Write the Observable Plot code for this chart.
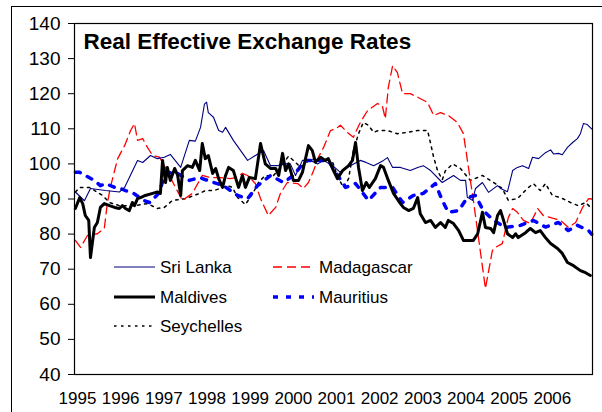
<!DOCTYPE html>
<html><head><meta charset="utf-8">
<script src="https://cdn.jsdelivr.net/npm/d3@7"></script>
<script src="https://cdn.jsdelivr.net/npm/@observablehq/plot@0.6"></script>
<style>
html,body{margin:0;padding:0;background:#fff;overflow:hidden;}
#outer{position:absolute;left:11px;top:6px;width:700px;height:500px;border-left:1.5px solid #000;border-top:1.5px solid #000;}
#chart{position:absolute;left:0;top:0;}
svg text{font-family:Arial,"Liberation Sans",sans-serif;}
</style></head><body>
<div id="outer"></div><div id="chart"></div>
<script>
const title = "Real Effective Exchange Rates";
const yTicks = [40, 50, 60, 70, 80, 90, 100, 110, 120, 130, 140];
const xTickYears = [1995, 1996, 1997, 1998, 1999, 2000, 2001, 2002, 2003, 2004, 2005, 2006];
const seriesNames = ["Sri Lanka", "Madagascar", "Maldives", "Mauritius", "Seychelles"];

const sriLanka = [[1995.02,92],[1995.23,89.5],[1995.37,93],[1995.72,92.4],[1996.04,92],[1996.16,93.3],[1996.46,101],[1996.58,100.4],[1996.76,102.4],[1996.92,101.5],[1997.08,101.9],[1997.22,102.7],[1997.46,99],[1997.66,106.7],[1997.80,106.5],[1997.92,110.4],[1998.01,117],[1998.06,117.6],[1998.10,114.6],[1998.22,113.3],[1998.34,109.5],[1998.43,109],[1998.50,110.4],[1998.68,106.7],[1999.01,101],[1999.19,102.4],[1999.38,103.8],[1999.54,99.5],[1999.70,99.5],[1999.84,100],[2000.00,100],[2000.12,96.7],[2000.28,101],[2000.47,101],[2000.63,100],[2000.77,101],[2000.98,99.5],[2001.16,97.6],[2001.39,99.5],[2001.62,101],[2001.74,100.5],[2001.93,99.5],[2002.16,101],[2002.25,101.8],[2002.37,99],[2002.55,99],[2002.78,98.1],[2002.95,99],[2003.08,99.5],[2003.25,98.1],[2003.52,94.7],[2003.78,96.7],[2003.94,95.3],[2004.06,95.3],[2004.10,90.5],[2004.22,89.6],[2004.29,93],[2004.45,94.7],[2004.59,91.9],[2004.80,93.8],[2004.87,93],[2005.03,92.1],[2005.15,98.1],[2005.26,99],[2005.38,99.5],[2005.52,98.7],[2005.61,101.9],[2005.75,101.5],[2005.91,103.2],[2006.03,104],[2006.10,102.8],[2006.21,103],[2006.30,102.6],[2006.42,104.7],[2006.54,106.1],[2006.65,107.2],[2006.72,108.6],[2006.79,111.5],[2006.88,111.2],[2006.98,110]];

const madagascar = [[1995.02,78.2],[1995.14,76.2],[1995.30,79.6],[1995.53,80.1],[1995.69,81.6],[1995.76,88.7],[1995.83,93.3],[1996.00,101.5],[1996.16,105.2],[1996.30,109.5],[1996.39,111.5],[1996.46,106.7],[1996.58,107.2],[1996.69,104.7],[1996.81,102.4],[1996.97,101.9],[1997.08,99.5],[1997.34,93.3],[1997.50,89.6],[1997.73,91.6],[1997.96,96.7],[1998.15,96.1],[1998.38,96.1],[1998.61,95.8],[1998.73,96.1],[1998.89,97.3],[1999.01,96.7],[1999.19,94.4],[1999.31,90.1],[1999.49,85.3],[1999.66,87.6],[1999.77,91.6],[1999.93,94.7],[2000.17,94.4],[2000.30,93],[2000.42,94.7],[2000.54,98.1],[2000.65,101.9],[2000.77,104.7],[2000.93,109.5],[2001.05,110],[2001.16,111],[2001.32,109],[2001.46,107.6],[2001.62,111.8],[2001.79,115.2],[2002.02,117.2],[2002.13,116.6],[2002.20,112.9],[2002.27,121.8],[2002.37,128],[2002.48,126],[2002.60,120],[2002.78,120],[2002.95,119],[2003.18,117.5],[2003.32,113.8],[2003.48,114.6],[2003.66,113.8],[2003.87,111.8],[2004.01,108.6],[2004.24,89.6],[2004.52,64.5],[2004.68,75.3],[2004.75,76.2],[2004.91,77.3],[2005.05,84.7],[2005.15,87.3],[2005.26,86.2],[2005.40,83.9],[2005.56,83],[2005.73,87.3],[2005.86,85.3],[2006.03,84.7],[2006.26,83.9],[2006.44,81.9],[2006.61,83.3],[2006.77,87.6],[2006.91,90.1],[2006.98,90]];

const maldives = [[1995.02,87.3],[1995.12,90.4],[1995.19,88.7],[1995.25,85.3],[1995.33,83.9],[1995.37,73.3],[1995.46,81.9],[1995.53,83.3],[1995.60,87.6],[1995.69,88.7],[1995.81,88.1],[1995.93,87.6],[1996.04,87.3],[1996.11,88.1],[1996.18,87.3],[1996.27,86.7],[1996.34,89],[1996.39,88.1],[1996.46,90.1],[1996.53,90.4],[1996.64,91],[1996.81,91.6],[1996.92,92],[1996.99,91.6],[1997.04,101],[1997.11,94.7],[1997.15,99],[1997.22,95.3],[1997.32,98.7],[1997.39,96.7],[1997.46,91],[1997.50,98.1],[1997.62,99.5],[1997.73,99],[1997.80,101],[1997.90,98.1],[1997.96,105.8],[1998.03,101.5],[1998.10,102.4],[1998.20,97.3],[1998.27,98.7],[1998.34,95.8],[1998.43,93.3],[1998.50,96.7],[1998.57,99],[1998.68,98.1],[1998.80,93.3],[1998.89,96.7],[1998.96,93.3],[1999.05,96.1],[1999.19,95.8],[1999.31,105.8],[1999.42,100],[1999.54,98.7],[1999.66,98.7],[1999.73,96.7],[1999.82,103],[1999.89,98.1],[1999.96,100],[2000.07,95.3],[2000.19,95.3],[2000.28,97.6],[2000.42,105.2],[2000.51,103.8],[2000.58,100.5],[2000.70,101.9],[2000.81,101],[2000.88,101.5],[2001.00,98.1],[2001.09,95.8],[2001.21,98.1],[2001.35,99.5],[2001.44,101],[2001.51,106.1],[2001.58,99],[2001.67,92.4],[2001.76,94.7],[2001.83,93.3],[2001.97,95.8],[2002.09,99.5],[2002.16,99],[2002.27,95.3],[2002.39,91.6],[2002.55,88.7],[2002.62,87.6],[2002.74,86.7],[2002.85,87.3],[2002.95,90.4],[2003.01,85.8],[2003.13,83.3],[2003.25,83.9],[2003.36,81.9],[2003.48,83.3],[2003.59,81.9],[2003.66,83.9],[2003.78,83],[2003.90,81],[2004.01,78.2],[2004.06,78.2],[2004.24,78.2],[2004.34,80.1],[2004.45,86.2],[2004.52,81.9],[2004.64,81.6],[2004.71,80.4],[2004.80,85.3],[2004.87,86.7],[2004.94,83.9],[2005.03,80.1],[2005.15,79],[2005.22,80.1],[2005.28,79],[2005.45,80.4],[2005.56,81.6],[2005.68,80.4],[2005.79,81],[2005.91,79],[2006.03,77.3],[2006.19,75.9],[2006.30,74.5],[2006.42,71.9],[2006.56,71],[2006.72,69.6],[2006.84,69],[2006.95,68.2]];

const mauritius = [[1995.02,97.6],[1995.12,97.6],[1995.25,96.7],[1995.46,95.3],[1995.60,93.8],[1995.72,94.4],[1995.93,93.3],[1996.07,93],[1996.18,92.4],[1996.37,91.6],[1996.60,89.6],[1996.74,89],[1996.95,91.6],[1997.11,97.3],[1997.34,97.6],[1997.66,95.3],[1997.90,96.1],[1998.22,94.7],[1998.45,93.8],[1998.78,91],[1999.01,90.1],[1999.24,93.8],[1999.54,96.7],[1999.84,94.7],[2000.07,96.7],[2000.35,101],[2000.63,101],[2000.88,101],[2001.05,97.6],[2001.28,93.3],[2001.51,94.4],[2001.81,89.6],[2002.09,93.3],[2002.37,93.3],[2002.60,89],[2002.85,91],[2003.08,91.6],[2003.36,94.4],[2003.52,89.6],[2003.66,86.2],[2003.90,86.7],[2004.10,90.4],[2004.29,91],[2004.47,86.7],[2004.71,83.9],[2004.98,81.9],[2005.33,82.5],[2005.63,83.9],[2005.91,82],[2006.21,83.3],[2006.44,81],[2006.65,82.5],[2006.91,81],[2006.98,80]];

const seychelles = [[1995.02,92],[1995.12,93.3],[1995.35,93.3],[1995.65,91],[1995.81,89],[1996.04,88.1],[1996.39,88.1],[1996.69,88.7],[1996.92,87.3],[1997.08,87.6],[1997.27,89.6],[1997.57,90.1],[1997.90,91.6],[1998.03,92.4],[1998.22,92.4],[1998.38,93],[1998.54,93.8],[1998.66,93.3],[1998.78,90.4],[1998.96,88.4],[1999.15,92],[1999.26,94.7],[1999.42,96.7],[1999.59,96.4],[1999.73,98.4],[1999.96,102.2],[2000.07,101],[2000.24,99],[2000.35,100.3],[2000.47,101.2],[2000.65,101.5],[2000.81,101.5],[2000.98,100.5],[2001.09,96.5],[2001.23,93.3],[2001.35,95.8],[2001.46,103.8],[2001.58,108.6],[2001.69,111.8],[2001.81,111],[2001.93,109],[2002.04,109.5],[2002.25,109.5],[2002.48,108.6],[2002.71,109],[2002.95,109.5],[2003.18,109.5],[2003.25,105.8],[2003.32,101.9],[2003.41,98.1],[2003.52,95.5],[2003.59,98],[2003.76,100],[2003.94,98.7],[2004.17,95.3],[2004.45,96.7],[2004.71,94.7],[2004.91,93],[2005.05,89.6],[2005.26,90.1],[2005.49,93],[2005.63,94.4],[2005.79,92.4],[2005.91,94.4],[2006.07,91],[2006.26,90.4],[2006.49,89],[2006.67,88.1],[2006.84,89],[2006.98,87.3]];

const seriesData = [sriLanka, madagascar, maldives, mauritius, seychelles];
const styles = {
  "Sri Lanka":  {stroke: "#000080", strokeWidth: 1.1, dash: null},
  "Madagascar": {stroke: "#ff0000", strokeWidth: 1.3, dash: "9,5"},
  "Maldives":   {stroke: "#000000", strokeWidth: 3, dash: null},
  "Mauritius":  {stroke: "#0000ff", strokeWidth: 3.5, dash: "5,8"},
  "Seychelles": {stroke: "#000000", strokeWidth: 1.5, dash: "2.5,4.5"}
};

const rows = seriesNames.flatMap((name, i) => seriesData[i].map(([t, v]) => ({name, t, v})));
const drawOrder = ["Seychelles", "Madagascar", "Mauritius", "Sri Lanka", "Maldives"];

const marks = drawOrder.map(name => Plot.line(rows.filter(r => r.name === name), {
  x: "t", y: "v", stroke: styles[name].stroke, strokeWidth: styles[name].strokeWidth,
  strokeDasharray: styles[name].dash, strokeLinejoin: "round"
}));

const chart = Plot.plot({
  width: 602, height: 412,
  marginLeft: 74, marginTop: 23, marginRight: 10, marginBottom: 38,
  style: {background: "transparent", fontFamily: "Arial, 'Liberation Sans', sans-serif", color: "#000", overflow: "visible"},
  x: {domain: [1995, 2007], axis: null, label: null},
  y: {domain: [40, 140], axis: null, label: null},
  marks: [
    Plot.axisY({ticks: yTicks, tickSize: 6, tickPadding: 8, fontSize: 19, stroke: "#000", label: null, tickFormat: d => String(d)}),
    Plot.axisX({ticks: xTickYears, tickSize: 0, tickPadding: 17, fontSize: 17, dx: 3, label: null, tickFormat: d => String(d)}),
    ...marks,
    Plot.frame({stroke: "#000", strokeWidth: 1.2}),
    Plot.text([title], {frameAnchor: "top-left", dx: 9, dy: 10, fontSize: 22.5, fontWeight: "bold", text: d => d, fill: "#000"})
  ]
});
document.getElementById("chart").appendChild(chart);

// legend
const svg = d3.select(chart);
const legendItems = [
  {name: "Sri Lanka", x: 114, y: 267},
  {name: "Madagascar", x: 273, y: 267},
  {name: "Maldives", x: 114, y: 297},
  {name: "Mauritius", x: 273, y: 297},
  {name: "Seychelles", x: 114, y: 326}
];
const lg = svg.append("g").attr("text-anchor", "start");
legendItems.forEach(it => {
  const s = styles[it.name];
  lg.append("line").attr("x1", it.x).attr("x2", it.x + 41).attr("y1", it.y).attr("y2", it.y)
    .attr("stroke", s.stroke).attr("stroke-width", s.strokeWidth)
    .attr("stroke-dasharray", s.dash);
  lg.append("text").attr("x", it.x + 46).attr("y", it.y).attr("dy", "0.35em")
    .attr("text-anchor", "start")
    .attr("font-size", 17).attr("fill", "#000").text(it.name);
});
</script>
</body></html>
